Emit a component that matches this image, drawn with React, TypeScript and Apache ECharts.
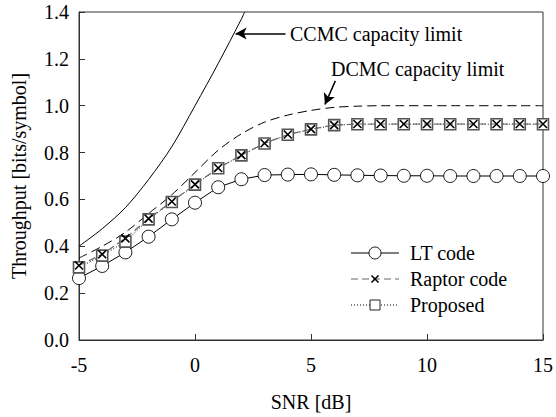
import React, { useEffect, useRef } from "react";
import * as echarts from "echarts";

const snr = [-5, -4, -3, -2, -1, 0, 1, 2, 3, 4, 5, 6, 7, 8, 9, 10, 11, 12, 13, 14, 15];
const ltCode = [0.264, 0.316, 0.374, 0.441, 0.515, 0.586, 0.652, 0.686, 0.704, 0.706, 0.707, 0.705, 0.703, 0.702, 0.701, 0.701, 0.70, 0.70, 0.70, 0.70, 0.70];
const raptorCode = [0.318, 0.366, 0.434, 0.518, 0.591, 0.664, 0.734, 0.789, 0.84, 0.877, 0.9, 0.917, 0.922, 0.922, 0.922, 0.922, 0.922, 0.922, 0.922, 0.922, 0.922];
const proposed = [0.31, 0.36, 0.42, 0.515, 0.589, 0.663, 0.733, 0.788, 0.839, 0.876, 0.899, 0.917, 0.921, 0.921, 0.921, 0.921, 0.921, 0.921, 0.921, 0.921, 0.921];
const dcmc = [0.35, 0.40, 0.46, 0.54, 0.62, 0.715, 0.81, 0.88, 0.93, 0.96, 0.98, 0.993, 0.998, 1.0, 1.0, 1.0, 1.0, 1.0, 1.0, 1.0, 1.0];
const ccmcSnr = [-5, -4, -3, -2, -1, 0, 1, 2, 2.14];
const ccmc = [0.40, 0.475, 0.565, 0.685, 0.825, 1.0, 1.18, 1.37, 1.40];
const legendNames = ["LT code", "Raptor code", "Proposed"];
const xTicks = { min: -5, max: 15, interval: 5 };
const yTicks = { min: 0, max: 1.4, interval: 0.2 };

const FONT = "'Liberation Serif', 'Times New Roman', serif";

export default function App() {
  const ref = useRef<HTMLDivElement>(null);
  useEffect(() => {
    if (!ref.current) return;
    const chart = echarts.init(ref.current, null, { renderer: "svg" });
    const pair = (xs: number[], ys: number[]) => xs.map((x, i) => [x, ys[i]]);

    // manual legend (decoration)
    const lx0 = 351, lx1 = 399, lmid = 375, ltx = 410;
    const rows = [253, 279, 305];
    const legendGraphics: any[] = [
      { type: "line", shape: { x1: lx0, y1: rows[0], x2: lx1, y2: rows[0] }, style: { stroke: "#000", lineWidth: 1 } },
      { type: "circle", shape: { cx: lmid, cy: rows[0], r: 6 }, style: { fill: "#fff", stroke: "#000", lineWidth: 0.9 } },
      { type: "line", shape: { x1: lx0, y1: rows[1], x2: lx1, y2: rows[1] }, style: { stroke: "#666", lineWidth: 1.2, lineDash: [7, 4] } },
      { type: "line", shape: { x1: lmid - 3.5, y1: rows[1] - 3.5, x2: lmid + 3.5, y2: rows[1] + 3.5 }, style: { stroke: "#000", lineWidth: 1.6 } },
      { type: "line", shape: { x1: lmid - 3.5, y1: rows[1] + 3.5, x2: lmid + 3.5, y2: rows[1] - 3.5 }, style: { stroke: "#000", lineWidth: 1.6 } },
      { type: "line", shape: { x1: lx0, y1: rows[2], x2: lx1, y2: rows[2] }, style: { stroke: "#000", lineWidth: 1, lineDash: [1, 2] } },
      { type: "rect", shape: { x: lmid - 5, y: rows[2] - 5, width: 10, height: 10 }, style: { fill: "#fff", stroke: "#222", lineWidth: 1 } },
    ];
    legendNames.forEach((n, i) => {
      legendGraphics.push({
        type: "text",
        x: ltx,
        y: rows[i],
        style: { text: n, fontFamily: FONT, fontSize: 20, fill: "#000", verticalAlign: "middle", align: "left" },
      });
    });

    chart.setOption({
      animation: false,
      backgroundColor: "#fff",
      textStyle: { fontFamily: FONT, color: "#000" },
      grid: { left: 79, top: 12, width: 465, height: 334, show: true, borderColor: "#333", borderWidth: 1 },
      xAxis: {
        type: "value",
        min: xTicks.min,
        max: xTicks.max,
        interval: xTicks.interval,
        name: "SNR [dB]",
        nameLocation: "middle",
        nameGap: 52,
        nameTextStyle: { fontFamily: FONT, fontSize: 20, color: "#000" },
        axisLine: { onZero: false, lineStyle: { color: "#333" } },
        axisTick: { inside: true, length: 6, lineStyle: { color: "#333" } },
        axisLabel: { fontFamily: FONT, fontSize: 20, color: "#000", margin: 15 },
        splitLine: { show: false },
      },
      yAxis: {
        type: "value",
        min: yTicks.min,
        max: yTicks.max,
        interval: yTicks.interval,
        name: "Throughput [bits/symbol]",
        nameLocation: "middle",
        nameGap: 50,
        nameTextStyle: { fontFamily: FONT, fontSize: 20, color: "#000" },
        axisLine: { show: true, onZero: false, lineStyle: { color: "#333" } },
        axisTick: { show: true, inside: true, length: 6, lineStyle: { color: "#333" } },
        axisLabel: { fontFamily: FONT, fontSize: 20, color: "#000", margin: 10, formatter: (v: number) => v.toFixed(1) },
        splitLine: { show: false },
      },
      series: [
        {
          name: "CCMC capacity limit",
          type: "line",
          data: pair(ccmcSnr, ccmc),
          smooth: 0.3,
          symbol: "none",
          lineStyle: { color: "#000", width: 1 },
          z: 2,
        },
        {
          name: "DCMC capacity limit",
          type: "line",
          data: pair(snr, dcmc),
          smooth: 0.3,
          symbol: "none",
          lineStyle: { color: "#000", width: 1, type: [9, 5] },
          z: 2,
          markLine: {
            silent: true,
            symbol: ["none", "arrow"],
            symbolSize: [9, 11],
            label: { show: false },
            lineStyle: { color: "#000", width: 1.5, type: "solid" },
            data: [
              [{ coord: [3.9, 1.308] }, { coord: [1.75, 1.308] }],
              [{ coord: [6.05, 1.106] }, { coord: [5.6, 1.005] }],
            ],
          },
        },
        {
          name: legendNames[0],
          type: "line",
          data: pair(snr, ltCode),
          symbol: "circle",
          symbolSize: 13,
          itemStyle: { color: "#fff", borderColor: "#000", borderWidth: 0.9 },
          lineStyle: { color: "#000", width: 1 },
          z: 3,
        },
        {
          name: legendNames[2],
          type: "line",
          data: pair(snr, proposed),
          symbol: "rect",
          symbolSize: 11,
          itemStyle: { color: "#fff", borderColor: "#555", borderWidth: 1.6 },
          lineStyle: { color: "#000", width: 1, type: [1, 2] },
          z: 3,
        },
        {
          name: legendNames[1],
          type: "line",
          data: pair(snr, raptorCode),
          symbol: "path://M0,0L10,10M0,10L10,0",
          symbolSize: 8,
          itemStyle: { color: "#000", borderColor: "#000", borderWidth: 1.6 },
          lineStyle: { color: "#666", width: 1.2, type: [7, 4] },
          z: 4,
        },
      ],
      graphic: [
        { type: "text", left: 290, top: 24, style: { text: "CCMC capacity limit", fontFamily: FONT, fontSize: 20, fill: "#000" } },
        { type: "text", left: 331, top: 59, style: { text: "DCMC capacity limit", fontFamily: FONT, fontSize: 20, fill: "#000" } },
        ...legendGraphics,
      ],
    });
    return () => chart.dispose();
  }, []);
  return <div ref={ref} style={{ position: "fixed", left: 0, top: 0, width: 556, height: 417 }} />;
}
